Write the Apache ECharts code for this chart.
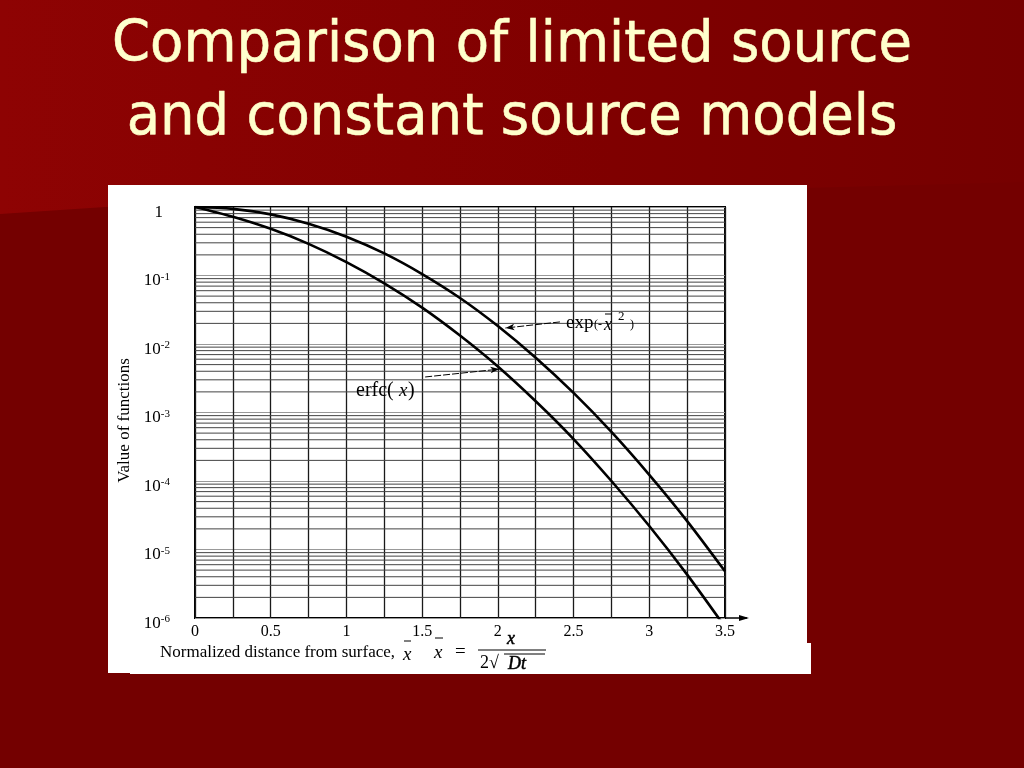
<!DOCTYPE html>
<html><head><meta charset="utf-8">
<script src="https://cdn.jsdelivr.net/npm/echarts@6/dist/echarts.min.js"></script>
<style>html,body{margin:0;padding:0;background:#740000}#c{width:1024px;height:768px}</style>
</head><body><div id="c"></div>
<script>
// ---- data ----
const xValues   = [0, 0.25, 0.5, 0.75, 1.0, 1.25, 1.5, 1.75, 2.0, 2.25, 2.5, 2.75, 3.0, 3.25, 3.5];
const erfcValues = [1, 0.72, 0.48, 0.29, 0.157, 0.077, 0.034, 0.0133, 0.0047, 0.00146, 0.00041, 0.0001, 0.000022, 0.0000043, 0.00000074];
const expValues  = [1, 0.94, 0.78, 0.57, 0.368, 0.21, 0.105, 0.047, 0.0183, 0.0063, 0.00193, 0.00052, 0.000123, 0.000026, 0.0000048];
const xTickLabels = ['0', '0.5', '1', '1.5', '2', '2.5', '3', '3.5'];
const yDecades = [1, 0.1, 0.01, 0.001, 0.0001, 0.00001];
const gridMantissas = [2, 3, 4, 5, 6, 7, 8, 9];
const titleLines = ['Comparison of limited source', 'and constant source models'];

// horizontal log-paper lines (2..9 within each decade), drawn as broken line segments
const minorGridData = [];
yDecades.forEach(d => gridMantissas.forEach(m => {
  const v = m * d / 10;
  minorGridData.push([0, v], [3.5, v], '-');
}));

const erfcData = xValues.map((x, i) => [x, erfcValues[i]]);
const expData = xValues.map((x, i) => [x, expValues[i]]);

const serif = 'Liberation Serif';
const chart = echarts.init(document.getElementById('c'), null, {renderer: 'canvas'});

// title: DejaVu Sans squeezed horizontally to resemble the narrow slide font
const titleFont = '57px "DejaVu Sans"';
const mctx = document.createElement('canvas').getContext('2d');
mctx.font = titleFont;
const titleScale = 800 / mctx.measureText(titleLines[0]).width;

function txt(t, x, y, font, extraStyle) {
  return {type: 'text', z: 10, silent: true,
    style: Object.assign({text: t, x: x, y: y, verticalAlign: 'middle', font: font, fill: '#000'}, extraStyle || {})};
}
function hl(x1, x2, y) {
  return {type: 'line', z: 10, silent: true, shape: {x1: x1, y1: y, x2: x2, y2: y}, style: {stroke: '#000', lineWidth: 1}};
}
const F = s => s + ' "Liberation Serif"';

const graphics = [
  {type: 'polygon', z: -100, silent: true,
    shape: {points: [[0,0],[1024,0],[1024,182],[105,207],[0,214]]},
    style: {fill: new echarts.graphic.LinearGradient(0,0,1,0,[{offset:0,color:'#8e0303'},{offset:0.6,color:'#7f0000'},{offset:1,color:'#760000'}])}},
  {type: 'rect', z: -90, silent: true, shape: {x: 108, y: 185, width: 699, height: 488}, style: {fill: '#ffffff'}},
  {type: 'rect', z: -90, silent: true, shape: {x: 130, y: 643, width: 681, height: 31}, style: {fill: '#ffffff'}},
  // slide title
  {type: 'text', z: 20, silent: true, x: 512, y: 46, scaleX: titleScale,
    style: {text: titleLines[0], x: 0, y: 0, align: 'center', verticalAlign: 'middle', font: titleFont, fill: '#FFFFCC',
      stroke: '#FFFFCC', lineWidth: 0.6,
      shadowColor: 'rgba(0,0,0,0.9)', shadowOffsetX: 2, shadowOffsetY: 2, shadowBlur: 2}},
  {type: 'text', z: 20, silent: true, x: 512, y: 119, scaleX: titleScale,
    style: {text: titleLines[1], x: 0, y: 0, align: 'center', verticalAlign: 'middle', font: titleFont, fill: '#FFFFCC',
      stroke: '#FFFFCC', lineWidth: 0.6,
      shadowColor: 'rgba(0,0,0,0.9)', shadowOffsetX: 2, shadowOffsetY: 2, shadowBlur: 2}},
  // bottom axis title and formula
  txt('Normalized distance from surface,', 160, 653, F('17px')),
  txt('x', 403, 655, F('italic 19px')),
  hl(404, 411, 641),
  txt('x', 434, 653, F('italic 19px')),
  hl(435, 443, 638),
  txt('=', 455, 652, F('19px')),
  txt('x', 507, 639, F('italic 18px'), {stroke: '#000', lineWidth: 0.5}),
  hl(478, 546, 650),
  txt('2\u221A', 480, 663, F('18px')),
  hl(504, 545, 654),
  txt('Dt', 508, 664, F('italic 18px'), {stroke: '#000', lineWidth: 0.5}),
  // curve labels
  txt('exp', 566, 323, F('19px')),
  txt('(-', 594, 325, F('12px')),
  txt('x', 604, 325, F('italic 18px')),
  hl(605, 612, 314),
  txt('2', 618, 317, F('13px')),
  txt(')', 630, 325, F('12px')),
  txt('erfc(', 356, 391, F('20px')),
  txt('x', 399, 391, F('italic 19px')),
  txt(')', 408, 391, F('20px'))
];

const option = {
  animation: false,
  backgroundColor: '#740000',
  graphic: graphics,
  grid: {left: 195, right: 299, top: 207, bottom: 150, show: true, borderColor: '#000', borderWidth: 2, backgroundColor: 'transparent'},
  xAxis: {
    type: 'value', min: 0, max: 3.5, interval: 0.5,
    axisLine: {show: false}, axisTick: {show: false},
    axisLabel: {fontFamily: serif, fontSize: 16, color: '#000', margin: 6,
      formatter: v => xTickLabels[Math.round(v / 0.5)] || ''},
    splitLine: {show: true, lineStyle: {color: '#1a1a1a', width: 1.3}},
    minorTick: {show: false, splitNumber: 2},
    minorSplitLine: {show: true, lineStyle: {color: '#1a1a1a', width: 1.3}}
  },
  yAxis: {
    type: 'log', logBase: 10, min: 1e-6, max: 1, splitNumber: 6,
    name: 'Value of functions', nameLocation: 'middle', nameGap: 58, nameRotate: 90,
    nameTextStyle: {fontFamily: serif, fontSize: 17, color: '#000', padding: [0, 0, 0, -16]},
    axisLine: {show: false}, axisTick: {show: false},
    axisLabel: {
      margin: 25, color: '#000', padding: [11, 0, 0, 0],
      formatter: v => {
        if (v > 0.5) return '{one|1}';
        return '{b|10}{s|' + Math.round(Math.log10(v)) + '}';
      },
      rich: {
        one: {fontFamily: serif, fontSize: 17, color: '#000', padding: [0, 7, 0, 0]},
        b: {fontFamily: serif, fontSize: 17, color: '#000'},
        s: {fontFamily: serif, fontSize: 11, color: '#000', padding: [0, 0, 8, 0]}
      }
    },
    splitLine: {show: true, lineStyle: {color: '#999', width: 1}}
  },
  series: [
    {
      name: 'log grid', type: 'line', data: minorGridData, silent: true, showSymbol: false,
      connectNulls: false, z: 1, lineStyle: {color: '#444', width: 1}
    },
    {
      name: 'exp(-x²)', type: 'line', data: expData, smooth: 0.3, showSymbol: false, clip: true, z: 5,
      lineStyle: {color: '#000', width: 2.6},
      markLine: {
        silent: true, symbol: ['none', 'arrow'], symbolSize: [5, 9], label: {show: false},
        lineStyle: {color: '#000', width: 1, type: [7, 2]},
        data: [[{coord: [2.41, 0.021]}, {coord: [2.05, 0.0171]}]]
      }
    },
    {
      name: 'erfc(x)', type: 'line', data: erfcData, smooth: 0.3, showSymbol: false, clip: true, z: 5,
      lineStyle: {color: '#000', width: 2.6},
      markLine: {
        silent: true, symbol: ['none', 'arrow'], symbolSize: [5, 9], label: {show: false},
        lineStyle: {color: '#000', width: 1, type: [7, 2]},
        data: [[{coord: [1.52, 0.0033]}, {coord: [2.01, 0.0043]}]]
      }
    }
  ]
};
chart.setOption(option);

// axis arrow past the end of the x axis, placed from the axis scale
const p = chart.convertToPixel({gridIndex: 0}, [3.5, 1e-6]);
if (p) {
  const g = graphics.slice();
  g.push({type: 'line', z: 10, silent: true, shape: {x1: p[0], y1: p[1], x2: p[0] + 22, y2: p[1]}, style: {stroke: '#000', lineWidth: 1.5}});
  g.push({type: 'polygon', z: 10, silent: true, shape: {points: [[p[0] + 24, p[1]], [p[0] + 14, p[1] - 3], [p[0] + 14, p[1] + 3]]}, style: {fill: '#000'}});
  chart.setOption({graphic: g});
}
</script></body></html>
